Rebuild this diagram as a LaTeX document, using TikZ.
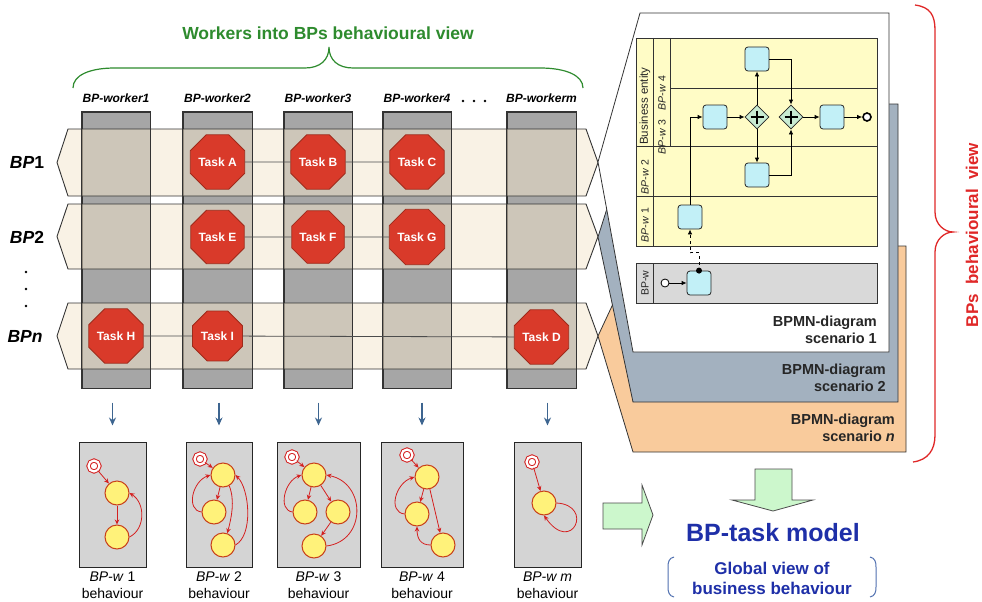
\documentclass[tikz,border=0pt]{standalone}
\usepackage{fontspec}
\setmainfont{Liberation Sans}
\usetikzlibrary{shapes.geometric,arrows.meta}
\definecolor{colgray}{HTML}{A6A6A6}
\definecolor{bandfill}{HTML}{F5E6CC}
\definecolor{taskred}{HTML}{D93A2A}
\definecolor{taskborder}{HTML}{9E2A1A}
\definecolor{titlegreen}{HTML}{2E8B2E}
\definecolor{arrowblue}{HTML}{3D6590}
\definecolor{boxgray}{HTML}{D4D4D4}
\definecolor{stfill}{HTML}{FFF27A}
\definecolor{stdraw}{HTML}{C8401A}
\definecolor{smred}{HTML}{D42020}
\definecolor{pagegray}{HTML}{A3B1BF}
\definecolor{pageorange}{HTML}{F9CB9C}
\definecolor{poolyellow}{HTML}{FFFCC6}
\definecolor{lanegray}{HTML}{D9D9D9}
\definecolor{bpmntask}{HTML}{C2F0F7}
\definecolor{gwfill}{HTML}{C8EBD2}
\definecolor{braceRed}{HTML}{E02828}
\definecolor{modelblue}{HTML}{1E2FA8}
\definecolor{parenblue}{HTML}{5070B0}
\definecolor{bigarrow}{HTML}{CCF7CC}
\tikzset{
 col/.style={draw=black!80, line width=0.9pt, fill=colgray, minimum height=276pt, inner sep=0pt},
 colline/.style={draw=black!80, line width=0.9pt},
 band/.style={fill=bandfill, fill opacity=0.5, draw=black!80, line width=0.9pt},
 task/.style={regular polygon, regular polygon sides=8, minimum size=54pt, inner sep=0pt, fill=taskred, draw=taskborder, line width=0.8pt, text=white, font=\fontsize{12}{14}\selectfont\bfseries},
 tasklink/.style={draw=black!70, line width=0.8pt},
 wlabel/.style={font=\fontsize{12}{14}\selectfont\bfseries\itshape},
 bplabel/.style={font=\fontsize{17.5}{20}\selectfont\bfseries},
 downarrow/.style={-{Stealth[length=8pt,width=7pt]}, draw=arrowblue, line width=1.4pt},
 behbox/.style={fill=boxgray, draw=black!85, line width=1pt, minimum height=125pt, inner sep=0pt},
 st/.style={circle, minimum size=24pt, inner sep=0pt, fill=stfill, draw=stdraw, line width=1pt},
 ini/.style={circle, minimum size=11pt, inner sep=0pt, fill=white, draw=smred, double=white, double distance=2.2pt, line width=1pt},
 sm/.style={-{Stealth[length=5pt,width=4.5pt]}, draw=smred, line width=0.8pt},
 blabel/.style={font=\fontsize{14}{17}\selectfont, align=center},
 page/.style={draw=black!80, line width=0.8pt},
 btask/.style={rectangle, rounded corners=3pt, minimum width=24pt, minimum height=24pt, inner sep=0pt, fill=bpmntask, draw=black!85, line width=0.8pt},
 gw/.style={diamond, minimum size=24pt, inner sep=0pt, fill=gwfill, draw=black!85, line width=0.8pt},
 flow/.style={-{Latex[length=5pt,width=4.5pt]}, draw=black, line width=0.8pt},
 lanetxt/.style={font=\fontsize{10.5}{12}\selectfont, rotate=90, inner sep=0pt, text=black!85},
 scen/.style={font=\fontsize{14.5}{17}\selectfont\bfseries, align=right, anchor=east, inner sep=0pt, text=black!85},
 greenarrow/.style={fill=bigarrow, draw=black!70, line width=0.8pt},
 poolline/.style={draw=black!80, line width=0.8pt},
}
\begin{document}
\begin{tikzpicture}[x=1pt,y=-1pt]
\useasboundingbox[fill=white] (0,0) rectangle (982,602);

% ---------- title and green brace
\node[font=\fontsize{17.5}{20}\selectfont\bfseries, text=titlegreen] (title) at (328,33) {Workers into BPs behavioural view};
\draw[titlegreen, line width=1.2pt] (73,88) .. controls (73,75) and (90,68) .. (115,68) -- (305,68)
  .. controls (320,68) and (329,60) .. (329,47) .. controls (329,60) and (338,68) .. (353,68)
  -- (540,68) .. controls (565,68) and (583,75) .. (583,88);

% ---------- worker columns
\node[col, minimum width=68pt] (c1) at (116,250) {};
\node[col, minimum width=69pt] (c2) at (217.5,250) {};
\node[col, minimum width=68pt] (c3) at (318,250) {};
\node[col, minimum width=68pt] (c4) at (417,250) {};
\node[col, minimum width=69pt] (c5) at (541.5,250) {};

\node[wlabel] (w1) at (116,98) {BP-worker1};
\node[wlabel] (w2) at (217.5,98) {BP-worker2};
\node[wlabel] (w3) at (318,98) {BP-worker3};
\node[wlabel] (w4) at (417,98) {BP-worker4};
\node[wlabel] (w5) at (541.5,98) {BP-workerm};
\foreach \x in {463,474,485} \fill (\x,101) circle (1.3pt);

% ---------- BP bands
\foreach \t/\b in {129/196, 204/269, 303/369}
  \path[band] (68,\t) -- (586,\t) -- (598,{(\t+\b)/2}) -- (586,\b) -- (68,\b) -- (57,{(\t+\b)/2}) -- cycle;
\foreach \c in {c1,c2,c3,c4,c5}
  \draw[colline] (\c.north west) rectangle (\c.south east);

\node[bplabel] (r1) at (27,162) {\textit{BP}1};
\node[bplabel] (r2) at (27,237) {\textit{BP}2};
\node[bplabel] (r3) at (25,336) {\textit{BPn}};
\foreach \y in {272,289,306} \fill (26,\y) circle (1.4pt);

% ---------- tasks
\node[task] (A) at (217.5,162) {Task A};
\node[task] (B) at (318,162) {Task B};
\node[task] (C) at (417,162) {Task C};
\node[task] (E) at (217.5,237) {Task E};
\node[task] (F) at (318,237) {Task F};
\node[task] (G) at (417,237) {Task G};
\node[task] (H) at (116,336) {Task H};
\node[task] (I) at (217.5,336) {Task I};
\node[task] (D) at (541.5,337) {Task D};
\draw[tasklink] (A) -- (B) (B) -- (C) (E) -- (F) (F) -- (G) (H) -- (I) (I) -- (D);

% ---------- behaviour boxes
\node[behbox, minimum width=67pt] (bb1) at (112.5,504.5) {};
\node[behbox, minimum width=66pt] (bb2) at (219,504.5) {};
\node[behbox, minimum width=83pt] (bb3) at (318.5,504.5) {};
\node[behbox, minimum width=82pt] (bb4) at (422,504.5) {};
\node[behbox, minimum width=67pt] (bb5) at (547.5,504.5) {};
\foreach \b in {bb1,bb2,bb3,bb4,bb5}
  \draw[downarrow] ([yshift=39pt]\b.north) -- ([yshift=16pt]\b.north);

\node[blabel] (l1) at (112.5,585.5) {\textit{BP-w} 1\\behaviour};
\node[blabel] (l2) at (219,585.5) {\textit{BP-w} 2\\behaviour};
\node[blabel] (l3) at (318.5,585.5) {\textit{BP-w} 3\\behaviour};
\node[blabel] (l4) at (422,585.5) {\textit{BP-w} 4\\behaviour};
\node[blabel] (l5) at (547.5,585.5) {\textit{BP-w m}\\behaviour};

% box 1
\node[ini] (i1) at (94,466) {};
\node[st] (a1) at (117,493) {};
\node[st] (b1) at (117,537) {};
\draw[sm] (i1) -- (a1);
\draw[sm] (a1) -- (b1);
\draw[sm] (b1.east) .. controls +(16,-8) and +(16,10) .. (a1.east);
% box 2
\node[ini] (i2) at (200,459) {};
\node[st] (a2) at (223,475) {};
\node[st] (b2) at (214,512) {};
\node[st] (c2b) at (223,545) {};
\draw[sm] (i2) -- (a2);
\draw[sm] (a2) -- (b2);
\draw[sm] (b2.west) .. controls +(-16,-2) and +(-18,6) .. (a2.west);
\draw[sm] (a2.-60) .. controls +(6,15) and +(4,-15) .. (c2b.70);
\draw[sm] (c2b.east) .. controls +(18,-10) and +(14,14) .. (a2.east);
% box 3
\node[ini] (i3) at (292,457) {};
\node[st] (a3) at (314,475) {};
\node[st] (b3) at (305,512) {};
\node[st] (c3b) at (338,512) {};
\node[st] (d3) at (314,546) {};
\draw[sm] (i3) -- (a3);
\draw[sm] (a3) -- (b3);
\draw[sm] (a3) -- (c3b);
\draw[sm] (c3b) -- (d3);
\draw[sm] (b3.west) .. controls +(-15,-2) and +(-17,6) .. (a3.west);
\draw[sm] (d3.east) .. controls +(40,-5) and +(40,8) .. (a3.east);
% box 4
\node[ini] (i4) at (407,455) {};
\node[st] (a4) at (427,477) {};
\node[st] (b4) at (417,514) {};
\node[st] (c4b) at (443,545) {};
\draw[sm] (i4) -- (a4);
\draw[sm] (a4) -- (b4);
\draw[sm] (a4) -- (c4b);
\draw[sm] (b4.west) .. controls +(-17,-2) and +(-19,6) .. (a4.west);
\draw[sm] (c4b.west) .. controls +(-10,0) and +(0,12) .. (b4.south);
% box m
\node[ini] (im) at (532,462) {};
\node[st] (am) at (544,503) {};
\draw[sm] (im) -- (am);
\draw[sm] (am.east) .. controls +(38,2) and +(28,40) .. (am.south);

% ---------- stacked BPMN pages
\path[page, fill=pageorange] (640,246) -- (906,246) -- (906,452) -- (633,452) -- (598,336) -- cycle;
\path[page, fill=pagegray] (640,104) -- (898,104) -- (898,402) -- (633,402) -- (598,237) -- cycle;
\path[page, fill=white] (640,13) -- (889,13) -- (889,352) -- (633,352) -- (598,162) -- cycle;

\node[scen] (s1) at (877,330) {BPMN-diagram\\scenario 1};
\node[scen] (s2) at (886,378) {BPMN-diagram\\scenario 2};
\node[scen] (s3) at (895,428) {BPMN-diagram\\scenario \textit{n}};

% pool
\path[poolline, fill=poolyellow] (636,38) rectangle (877,246);
\draw[poolline] (653,38) -- (653,246) (670,38) -- (670,146) (670,88) -- (877,88)
  (636,146) -- (877,146) (636,196) -- (877,196);
\node[lanetxt, font=\fontsize{11.5}{12}\selectfont] (pe) at (645,106) {Business entity};
\node[lanetxt] (pw4) at (662,93) {\textit{BP-w} 4};
\node[lanetxt] (pw3) at (662,137) {\textit{BP-w} 3};
\node[lanetxt] (pw2) at (645,177) {\textit{BP-w} 2};
\node[lanetxt] (pw1) at (645,225) {\textit{BP-w} 1};
% BP-w lane
\path[poolline, fill=lanegray] (636,263) rectangle (877,303);
\draw[poolline] (653,263) -- (653,303);
\node[lanetxt] (pw) at (645,283) {BP-w};

\node[btask] (ttop) at (757,59) {};
\node[btask] (t1) at (715,117) {};
\node[gw] (g1) at (757,117) {};
\node[gw] (g2) at (791,117) {};
\node[btask] (tend) at (832,117) {};
\node[circle, draw=black, line width=1.6pt, minimum size=8pt, inner sep=0pt, fill=white] (ev) at (867,117) {};
\node[btask] (tlow) at (757,175) {};
\node[btask] (tw1) at (690,217) {};
\node[btask] (tbw) at (699,283) {};
\node[circle, draw=black, line width=0.8pt, minimum size=8pt, inner sep=0pt, fill=white] (sv) at (665,283) {};
\foreach \g in {g1,g2}
  \draw[line width=1.4pt] (\g.center) +(-6.5,0) -- +(6.5,0) (\g.center) +(0,-6.5) -- +(0,6.5);

\draw[flow] (sv) -- (tbw);
\draw[flow, dashed] (tbw.north) -- ++(0,-18) -| (tw1.south);
\fill (tbw.north) circle (3pt);
\draw[flow] (tw1.north) |- (t1.west);
\draw[flow] (t1) -- (g1);
\draw[flow] (g1.north) -- (ttop.south);
\draw[flow] (g1.south) -- (tlow.north);
\draw[flow] (ttop.east) -| (g2.north);
\draw[flow] (tlow.east) -| (g2.south);
\draw[flow] (g2) -- (tend);
\draw[flow] (tend) -- (ev);

% ---------- red brace
\draw[braceRed, line width=1.3pt] (915,5) .. controls (930,7) and (935,15) .. (935,30) -- (935,212)
  .. controls (935,225) and (945,232) .. (953,232) .. controls (945,232) and (935,239) .. (935,252)
  -- (935,435) .. controls (935,450) and (928,460) .. (913,462);
\node[rotate=90, font=\fontsize{17}{19}\selectfont\bfseries, text=braceRed] (bv) at (972,235) {BPs\ \ behavioural\ \ view};

% ---------- bottom right
\path[greenarrow] (603,503) -- (642,503) -- (642,485) -- (653,515) -- (642,545) -- (642,529) -- (603,529) -- cycle;
\path[greenarrow] (755,469) -- (792,469) -- (792,500) -- (813,500) -- (773,511) -- (732,500) -- (755,500) -- cycle;
\node[font=\fontsize{25}{30}\selectfont\bfseries, text=modelblue] (tm) at (773,533) {BP-task model};
\node[font=\fontsize{17}{20}\selectfont\bfseries, text=modelblue, align=center] (gv) at (772,578) {Global view of\\business behaviour};
\draw[parenblue, line width=1pt] (674,557) .. controls (669,558) and (668,562) .. (668,567) -- (668,587) .. controls (668,592) and (669,596) .. (674,597);
\draw[parenblue, line width=1pt] (870,557) .. controls (875,558) and (876,562) .. (876,567) -- (876,587) .. controls (876,592) and (875,596) .. (870,597);
\end{tikzpicture}
\end{document}
